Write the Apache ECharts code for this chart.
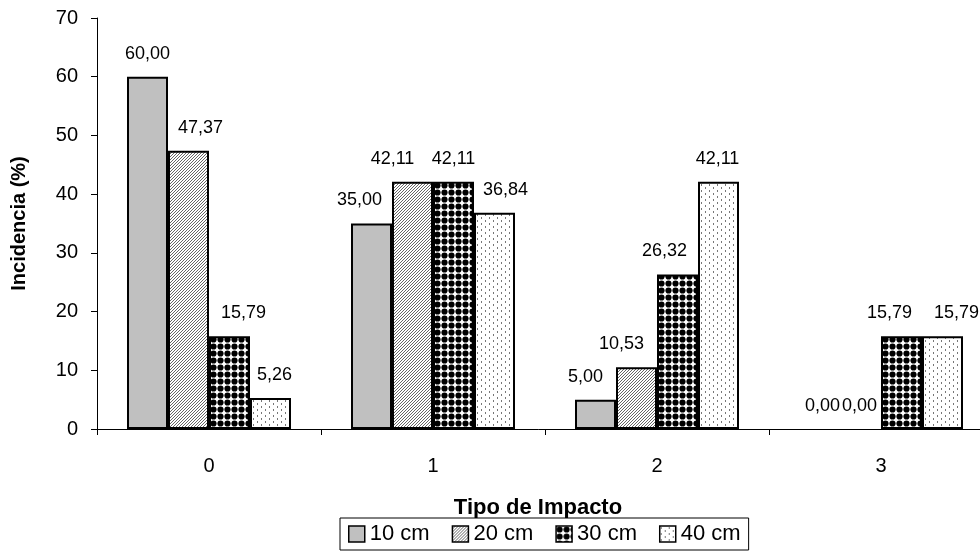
<!DOCTYPE html>
<html>
<head>
<meta charset="utf-8">
<title>Incidencia por tipo de impacto</title>
<script src="https://cdn.jsdelivr.net/npm/echarts@6/dist/echarts.min.js"></script>
<style>
  html, body { margin: 0; padding: 0; background: #fff; }
  #chart { width: 980px; height: 557px; }
</style>
</head>
<body>
<div id="chart"></div>
<script>
// Impact types on the category axis
const categories = ['0', '1', '2', '3'];
// Series names (depth)
const seriesNames = ['10 cm', '20 cm', '30 cm', '40 cm'];
// Incidence (%) per depth, one value per impact type
const values10 = [60.00, 35.00, 5.00, 0.00];
const values20 = [47.37, 42.11, 10.53, 0.00];
const values30 = [15.79, 42.11, 26.32, 15.79];
const values40 = [5.26, 36.84, 42.11, 15.79];
// Value axis ticks
const yTicks = [0, 10, 20, 30, 40, 50, 60, 70];

// Horizontal nudges of the value labels so neighbouring labels don't collide
const labelShift10 = [0, -12, -10, 3];
const labelShift20 = [12, -20, -15, -1];
const labelShift30 = [14, 0, -13, -12];
const labelShift40 = [4, 11, -1, 14];

const FONT = "'Liberation Sans', Arial, Helvetica, sans-serif";

// Fill patterns for the bars, drawn onto small tiles
function tile(w, h, draw) {
  const c = document.createElement('canvas');
  c.width = w; c.height = h;
  const g = c.getContext('2d');
  g.fillStyle = '#ffffff';
  g.fillRect(0, 0, w, h);
  draw(g);
  return { image: c, repeat: 'repeat' };
}
const fillSolid = '#c0c0c0';
const fillHatch = tile(3, 3, g => {
  g.fillStyle = '#666666';
  g.fillRect(2, 0, 1, 1);
  g.fillRect(1, 1, 1, 1);
  g.fillRect(0, 2, 1, 1);
});
const fillBeads = tile(7, 7, g => {
  g.fillStyle = '#000000';
  g.beginPath();
  g.arc(3.5, 3.5, 3.1, 0, Math.PI * 2);
  g.fill();
});
const fillDots = tile(8, 6, g => {
  g.fillStyle = '#777777';
  g.fillRect(1, 1, 1, 2);
  g.fillRect(5, 4, 1, 2);
});

const fmt = v => v.toFixed(2).replace('.', ',');

function makeSeries(name, vals, shifts, fill) {
  return {
    name: name,
    type: 'bar',
    barWidth: 41,
    barGap: '0%',
    data: vals.map((v, i) => {
      const item = { value: v, label: { offset: [shifts[i], 0] } };
      // a zero bar has no height, so no outline either
      if (v === 0) item.itemStyle = { borderWidth: 0 };
      return item;
    }),
    itemStyle: { color: fill, borderColor: '#000', borderWidth: 2 },
    label: {
      show: true,
      position: 'top',
      distance: 14,
      color: '#000',
      fontFamily: FONT,
      fontSize: 18,
      formatter: p => fmt(p.value)
    }
  };
}

const chart = echarts.init(document.getElementById('chart'), null, { renderer: 'canvas' });
chart.setOption({
  animation: false,
  backgroundColor: '#ffffff',
  grid: { left: 97, width: 896, top: 18, height: 411, containLabel: false, outerBoundsMode: 'none' },
  xAxis: {
    type: 'category',
    data: categories,
    name: 'Tipo de Impacto',
    nameLocation: 'middle',
    nameGap: 68,
    nameTextStyle: { color: '#000', fontFamily: FONT, fontSize: 22, fontWeight: 'bold', padding: [0, 14, 0, 0] },
    axisLine: { lineStyle: { color: '#000', width: 1 } },
    axisTick: { show: true, length: 6, inside: false, lineStyle: { color: '#000' } },
    axisLabel: { color: '#000', fontFamily: FONT, fontSize: 20, margin: 27 },
    splitLine: { show: false }
  },
  yAxis: {
    type: 'value',
    min: yTicks[0],
    max: yTicks[yTicks.length - 1],
    interval: yTicks[1] - yTicks[0],
    name: 'Incidencia (%)',
    nameLocation: 'middle',
    nameGap: 68,
    nameTextStyle: { color: '#000', fontFamily: FONT, fontSize: 20, fontWeight: 'bold' },
    axisLine: { show: true, lineStyle: { color: '#000', width: 1 } },
    axisTick: { show: true, length: 6, inside: false, lineStyle: { color: '#000' } },
    axisLabel: { color: '#000', fontFamily: FONT, fontSize: 20, margin: 19 },
    splitLine: { show: false }
  },
  legend: {
    data: seriesNames,
    left: 340,
    top: 518,
    orient: 'horizontal',
    icon: 'rect',
    itemWidth: 16,
    itemHeight: 16,
    itemGap: 22,
    padding: [5, 8],
    borderColor: '#000',
    borderWidth: 1,
    backgroundColor: '#fff',
    itemStyle: { borderColor: '#000', borderWidth: 1.5 },
    textStyle: { color: '#000', fontFamily: FONT, fontSize: 22 }
  },
  series: [
    makeSeries(seriesNames[0], values10, labelShift10, fillSolid),
    makeSeries(seriesNames[1], values20, labelShift20, fillHatch),
    makeSeries(seriesNames[2], values30, labelShift30, fillBeads),
    makeSeries(seriesNames[3], values40, labelShift40, fillDots)
  ]
});
</script>
</body>
</html>
